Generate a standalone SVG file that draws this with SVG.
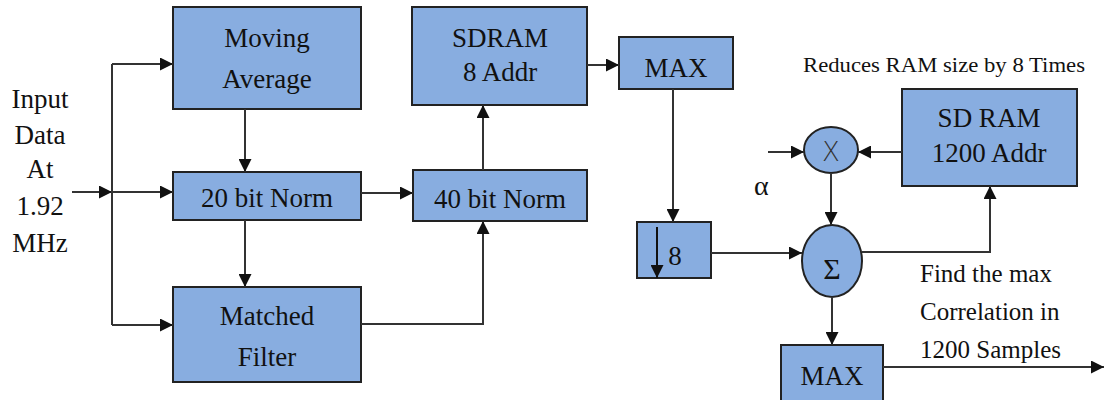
<svg xmlns="http://www.w3.org/2000/svg" width="1104" height="400" viewBox="0 0 1104 400">
<defs>
<marker id="ah" markerUnits="userSpaceOnUse" markerWidth="13" markerHeight="13" viewBox="0 0 13 13" refX="13" refY="6.5" orient="auto">
<path d="M0,0 L13,6.5 L0,13 z" fill="#111"/>
</marker>
</defs>
<style>
.box{fill:#88ade0;stroke:#222;stroke-width:2}
.t{font-size:27px;fill:#111;text-anchor:middle}
.n{font-size:25px;fill:#111}
.c{fill:none;stroke:#333;stroke-width:2}
.a{marker-end:url(#ah)}
</style>
<rect width="1104" height="400" fill="#fff"/>
<g font-family="Liberation Serif, Times New Roman, serif">
<g id="input-label">
<text class="t" x="40" y="108">Input</text>
<text class="t" x="40" y="144">Data</text>
<text class="t" x="40" y="178">At</text>
<text class="t" x="40" y="215">1.92</text>
<text class="t" x="40" y="252">MHz</text>
</g>
<g id="moving-average"><rect class="box" x="173" y="7" width="188" height="102"/><text class="t" x="267" y="47">Moving</text><text class="t" x="267" y="88">Average</text></g>
<g id="norm20"><rect class="box" x="173" y="172" width="188" height="48"/><text class="t" x="267" y="207">20 bit Norm</text></g>
<g id="matched-filter"><rect class="box" x="173" y="287" width="188" height="95"/><text class="t" x="267" y="325">Matched</text><text class="t" x="267" y="366">Filter</text></g>
<g id="sdram8"><rect class="box" x="412" y="7" width="175" height="98"/><text class="t" x="500" y="47">SDRAM</text><text class="t" x="500" y="81">8 Addr</text></g>
<g id="norm40"><rect class="box" x="413" y="170" width="174" height="51"/><text class="t" x="500" y="208">40 bit Norm</text></g>
<g id="max1"><rect class="box" x="619" y="37" width="114" height="52"/><text class="t" x="676" y="77">MAX</text></g>
<g id="decim"><rect class="box" x="637" y="222" width="74" height="56"/><text class="t" x="675" y="265">8</text><line x1="657" y1="227" x2="657" y2="278" class="c a" style="stroke:#111"/></g>
<g id="sum"><ellipse class="box" cx="832" cy="261" rx="30" ry="36"/><text class="t" x="832" y="279" style="font-size:30px">Σ</text></g>
<g id="mult"><ellipse class="box" cx="831" cy="150" rx="27" ry="23"/><text x="831" y="161" font-family="DejaVu Sans, sans-serif" font-weight="200" font-size="26" fill="#333" text-anchor="middle">X</text></g>
<g id="sdram1200"><rect class="box" x="902" y="89" width="175" height="97"/><text class="t" x="989" y="127">SD RAM</text><text class="t" x="989" y="162">1200 Addr</text></g>
<g id="max2"><rect class="box" x="781" y="345" width="102" height="60"/><text class="t" x="832" y="385">MAX</text></g>
<g id="labels">
<text class="n" x="754" y="195" fill="#1a2240" style="font-size:28px">α</text>
<text class="n" x="803" y="72" textLength="282" lengthAdjust="spacingAndGlyphs" style="font-size:21px">Reduces RAM size by 8 Times</text>
<text class="n" x="920" y="282">Find the max</text>
<text class="n" x="920" y="320">Correlation in</text>
<text class="n" x="920" y="358">1200 Samples</text>
</g>
</g>
<g id="connectors">
<line class="c a" x1="72" y1="192" x2="112" y2="192"/>
<path class="c" d="M112,64 V325"/>
<line class="c a" x1="112" y1="64" x2="173" y2="64"/>
<line class="c a" x1="112" y1="192" x2="173" y2="192"/>
<line class="c a" x1="112" y1="325" x2="173" y2="325"/>
<line class="c a" x1="245" y1="109" x2="245" y2="172"/>
<line class="c a" x1="245" y1="220" x2="245" y2="287"/>
<line class="c a" x1="361" y1="193" x2="413" y2="193"/>
<path class="c a" d="M361,324 H483 V221"/>
<line class="c a" x1="483" y1="170" x2="483" y2="105"/>
<line class="c a" x1="587" y1="65" x2="619" y2="65"/>
<line class="c a" x1="673" y1="89" x2="673" y2="222"/>
<line class="c a" x1="711" y1="253" x2="802" y2="253"/>
<line class="c a" x1="768" y1="152" x2="804" y2="152"/>
<line class="c a" x1="902" y1="152" x2="858" y2="152"/>
<line class="c a" x1="831" y1="173" x2="831" y2="225"/>
<path class="c a" d="M862,252 H990 V186"/>
<line class="c a" x1="832" y1="297" x2="832" y2="345"/>
<line class="c a" x1="883" y1="367" x2="1104" y2="367"/>
</g>
</svg>
